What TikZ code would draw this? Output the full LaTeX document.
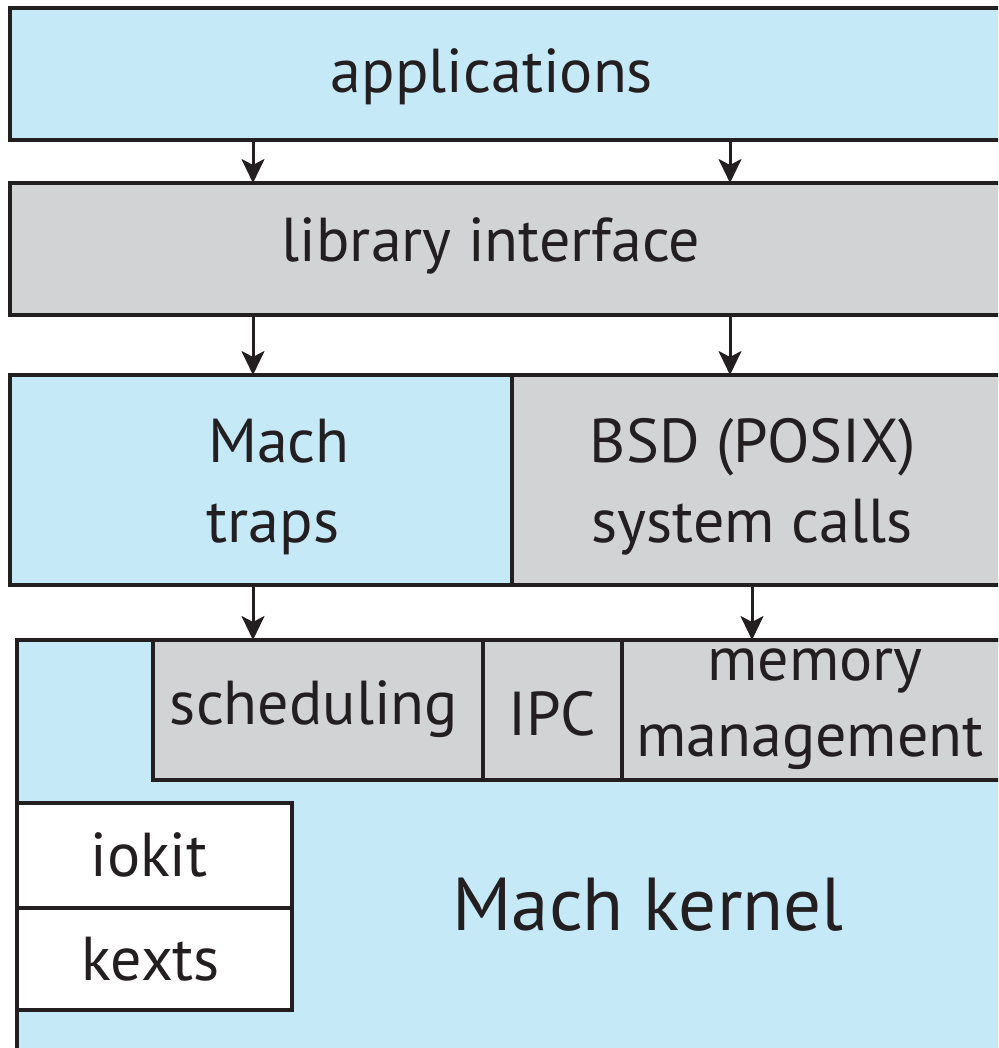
\documentclass[tikz,border=0pt]{standalone}
\usepackage{fontspec}
\setmainfont{PT Sans}
\usetikzlibrary{arrows.meta}
\definecolor{lblue}{HTML}{C6E9F8}
\definecolor{lgray}{HTML}{D2D3D5}
\definecolor{ink}{HTML}{231F20}
\begin{document}
\begin{tikzpicture}[x=1pt,y=-1pt,
  boxst/.style={draw=ink, line width=3.4pt, inner sep=0pt, outer sep=0pt, anchor=north west},
  lbl/.style={text=ink, inner sep=0pt, anchor=base, font=\fontsize{62}{64}\selectfont},
  arr/.style={draw=ink, line width=3pt, -{Stealth[length=24pt, width=23pt, inset=6pt]}}]
\useasboundingbox (0,0) rectangle (998,1048);
\clip (0,0) rectangle (998,1048);
% boxes
\node[boxst, fill=lblue, minimum width=1000pt, minimum height=132pt] (app) at (10,8) {};
\node[boxst, fill=lgray, minimum width=1000pt, minimum height=132pt] (lib) at (10,183) {};
\node[boxst, fill=lblue, minimum width=502pt, minimum height=210pt] (traps) at (10,375) {};
\node[boxst, fill=lgray, minimum width=500pt, minimum height=210pt] (bsd) at (512,375) {};
\node[boxst, fill=lblue, minimum width=1000pt, minimum height=430pt] (kern) at (17,640) {};
\node[boxst, fill=lgray, minimum width=330pt, minimum height=140pt] (sched) at (153,640) {};
\node[boxst, fill=lgray, minimum width=139pt, minimum height=140pt] (ipc) at (483,640) {};
\node[boxst, fill=lgray, minimum width=400pt, minimum height=140pt] (mem) at (622,640) {};
\node[boxst, fill=white, minimum width=275pt, minimum height=105pt] (iokit) at (17,803) {};
\node[boxst, fill=white, minimum width=275pt, minimum height=102pt] (kexts) at (17,908) {};
% labels
\node[lbl] (tapp) at (492,93) {applications};
\node[lbl] (tlib) at (491,262) {library interface};
\node[lbl] (tmach) at (279,462) {Mach};
\node[lbl] (ttraps) at (273,542) {traps};
\node[lbl] (tbsd) at (753,462) {BSD (POSIX)};
\node[lbl] (tsys) at (752,542) {system calls};
\node[lbl] (tsched) at (314,724) {scheduling};
\node[lbl] (tipc) at (552,735) {IPC};
\node[lbl] (tmem) at (815,680) {memory};
\node[lbl] (tmgmt) at (810,756) {management};
\node[lbl] (tiokit) at (149,876) {iokit};
\node[lbl] (tkexts) at (151,980) {kexts};
\node[lbl, font=\fontsize{75}{77}\selectfont] (tkern) at (648,930) {Mach kernel};
% arrows
\coordinate (xa) at (253,0);
\coordinate (xb) at (730,0);
\coordinate (xc) at (752,0);
\draw[arr] (app.south -| xa) -- (lib.north -| xa);
\draw[arr] (app.south -| xb) -- (lib.north -| xb);
\draw[arr] (lib.south -| xa) -- (traps.north -| xa);
\draw[arr] (lib.south -| xb) -- (bsd.north -| xb);
\draw[arr] (traps.south -| xa) -- (sched.north -| xa);
\draw[arr] (bsd.south -| xc) -- (mem.north -| xc);
\end{tikzpicture}
\end{document}
